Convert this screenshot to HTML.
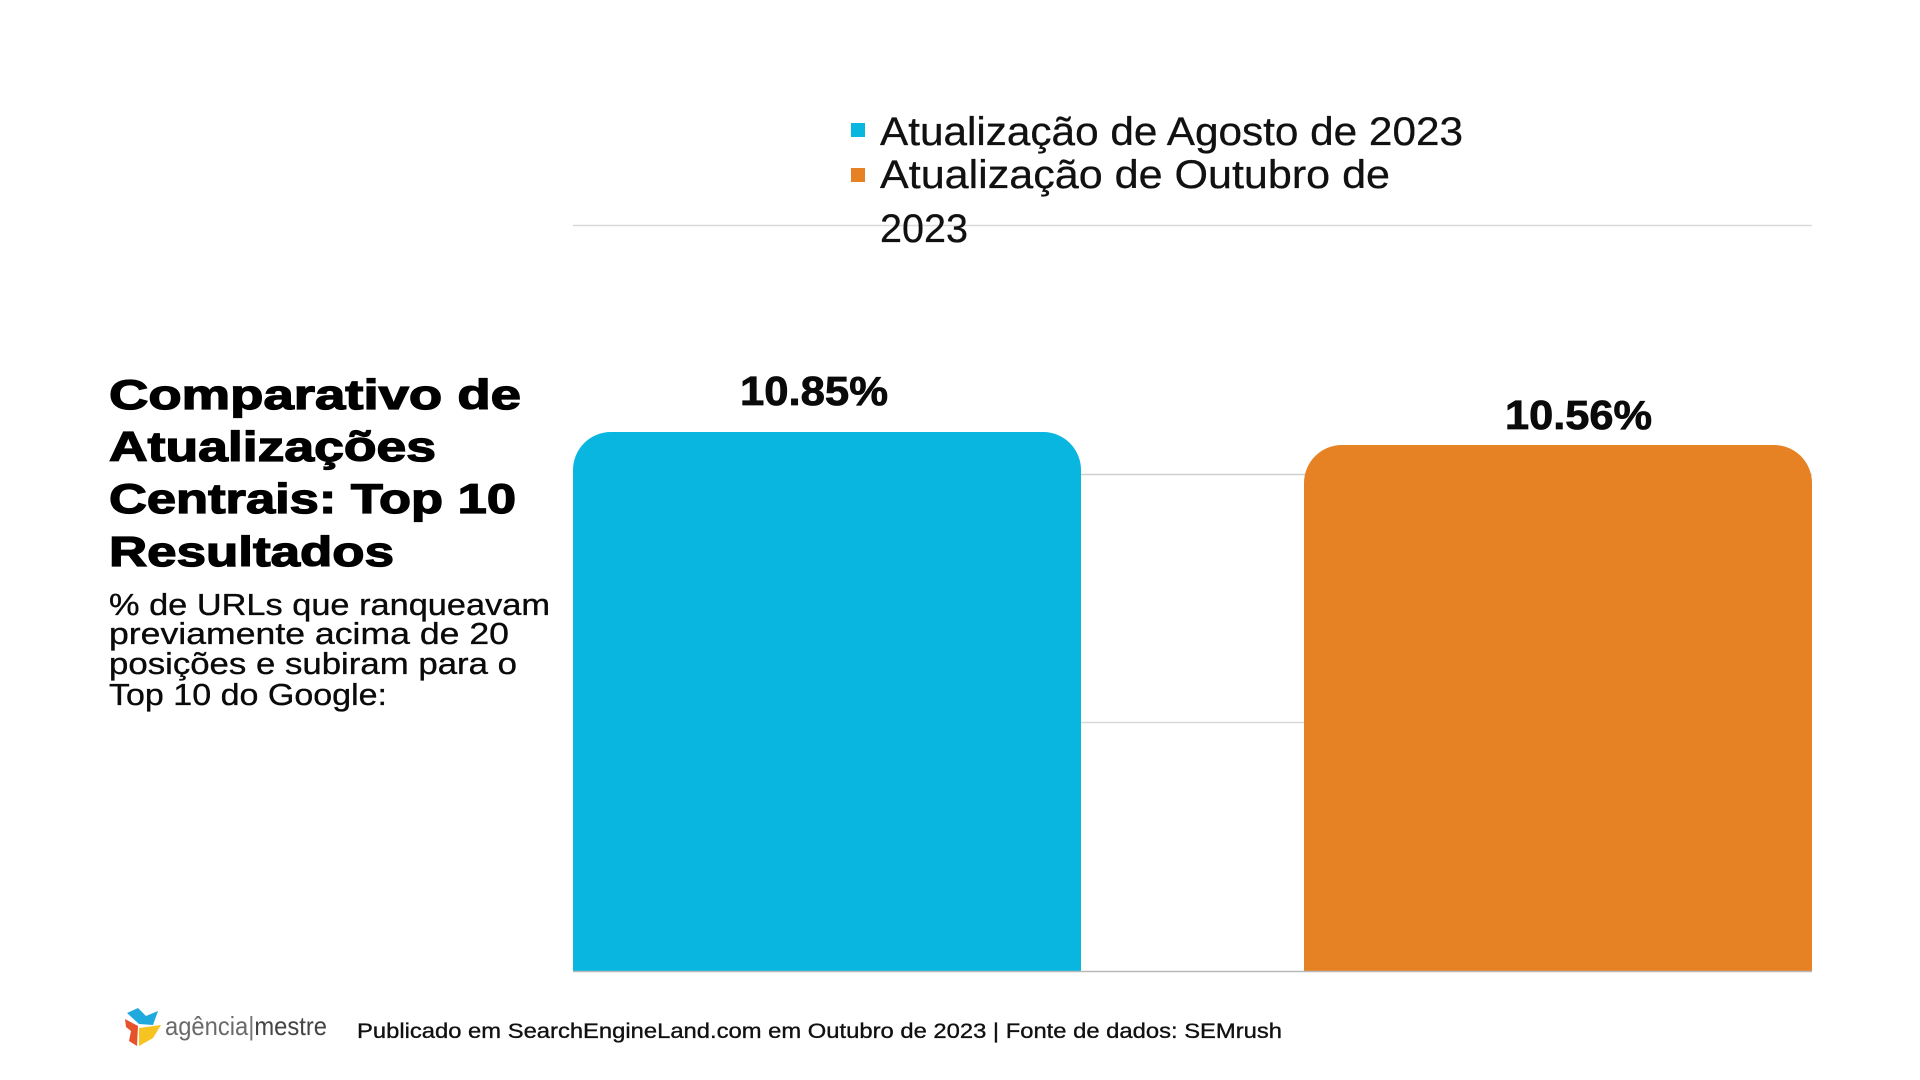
<!DOCTYPE html>
<html lang="pt">
<head>
<meta charset="utf-8">
<style>
  html, body { margin: 0; padding: 0; background: #ffffff; }
  body { width: 1920px; height: 1080px; overflow: hidden; }
  svg { display: block; }
  text { font-family: "Liberation Sans", "DejaVu Sans", sans-serif; }
</style>
</head>
<body>
<svg width="1920" height="1080" viewBox="0 0 1920 1080" xmlns="http://www.w3.org/2000/svg">
  <rect x="0" y="0" width="1920" height="1080" fill="#ffffff"/>

  <!-- gridlines -->
  <line x1="573" y1="225.5" x2="1812" y2="225.5" stroke="#d9d9d9" stroke-width="1.5"/>
  <line x1="573" y1="474.5" x2="1812" y2="474.5" stroke="#d0d0d0" stroke-width="1.5"/>
  <line x1="573" y1="722.5" x2="1812" y2="722.5" stroke="#d9d9d9" stroke-width="1.5"/>

  <!-- bars -->
  <path d="M573,972 V470 A38,38 0 0 1 611,432 H1043 A38,38 0 0 1 1081,470 V972 Z" fill="#08b6e0"/>
  <path d="M1304,972 V483 A38,38 0 0 1 1342,445 H1774 A38,38 0 0 1 1812,483 V972 Z" fill="#e78224"/>

  <!-- baseline axis -->
  <line x1="573" y1="971.5" x2="1812" y2="971.5" stroke="#b8b8b8" stroke-width="1.5"/>

  <!-- value labels -->
  <text x="740" y="405" font-size="41" font-weight="bold" fill="#0a0a0a" stroke="#0a0a0a" stroke-width="0.8" textLength="148" lengthAdjust="spacingAndGlyphs">10.85%</text>
  <text x="1505" y="429" font-size="41" font-weight="bold" fill="#0a0a0a" stroke="#0a0a0a" stroke-width="0.8" textLength="147" lengthAdjust="spacingAndGlyphs">10.56%</text>

  <!-- legend -->
  <rect x="851" y="123" width="14" height="14" fill="#08b6e0"/>
  <rect x="851" y="168" width="14" height="14" fill="#e78224"/>
  <text x="880" y="145" font-size="40" fill="#111111" stroke="#111111" stroke-width="0.3" textLength="583" lengthAdjust="spacingAndGlyphs">Atualização de Agosto de 2023</text>
  <text x="880" y="188" font-size="40" fill="#111111" stroke="#111111" stroke-width="0.3" textLength="510" lengthAdjust="spacingAndGlyphs">Atualização de Outubro de</text>
  <text x="880" y="242" font-size="40" fill="#111111" stroke="#111111" stroke-width="0.3" textLength="88" lengthAdjust="spacingAndGlyphs">2023</text>

  <!-- title -->
  <text x="109" y="409" font-size="42" font-weight="bold" fill="#000000" stroke="#000000" stroke-width="1.3" textLength="412" lengthAdjust="spacingAndGlyphs">Comparativo de</text>
  <text x="109" y="461" font-size="42" font-weight="bold" fill="#000000" stroke="#000000" stroke-width="1.3" textLength="327" lengthAdjust="spacingAndGlyphs">Atualizações</text>
  <text x="109" y="513" font-size="42" font-weight="bold" fill="#000000" stroke="#000000" stroke-width="1.3" textLength="407" lengthAdjust="spacingAndGlyphs">Centrais: Top 10</text>
  <text x="109" y="566" font-size="42" font-weight="bold" fill="#000000" stroke="#000000" stroke-width="1.3" textLength="285" lengthAdjust="spacingAndGlyphs">Resultados</text>

  <!-- subtitle -->
  <text x="109" y="615" font-size="31" fill="#0a0a0a" stroke="#0a0a0a" stroke-width="0.35" textLength="441" lengthAdjust="spacingAndGlyphs">% de URLs que ranqueavam</text>
  <text x="109" y="644" font-size="31" fill="#0a0a0a" stroke="#0a0a0a" stroke-width="0.35" textLength="400" lengthAdjust="spacingAndGlyphs">previamente acima de 20</text>
  <text x="109" y="674" font-size="31" fill="#0a0a0a" stroke="#0a0a0a" stroke-width="0.35" textLength="408" lengthAdjust="spacingAndGlyphs">posições e subiram para o</text>
  <text x="109" y="705" font-size="31" fill="#0a0a0a" stroke="#0a0a0a" stroke-width="0.35" textLength="278" lengthAdjust="spacingAndGlyphs">Top 10 do Google:</text>

  <!-- logo icon -->
  <polygon points="127,1013 138,1008 146,1016 158,1011 153,1025 139,1024" fill="#1fa9dc"/>
  <polygon points="125,1019 138,1026 137,1046 129,1041 131,1031 126,1027" fill="#e5522b"/>
  <polygon points="139,1028 161,1025 153,1038 139,1046" fill="#f6c321"/>
  <!-- logo text -->
  <text x="165" y="1035" font-size="26" fill="#6a6a6a" textLength="162" lengthAdjust="spacingAndGlyphs">agência<tspan fill="#777777">|</tspan><tspan fill="#444444">mestre</tspan></text>

  <!-- footer -->
  <text x="357" y="1038" font-size="21" fill="#111111" stroke="#111111" stroke-width="0.35" textLength="925" lengthAdjust="spacingAndGlyphs">Publicado em SearchEngineLand.com em Outubro de 2023 | Fonte de dados: SEMrush</text>
</svg>
</body>
</html>
